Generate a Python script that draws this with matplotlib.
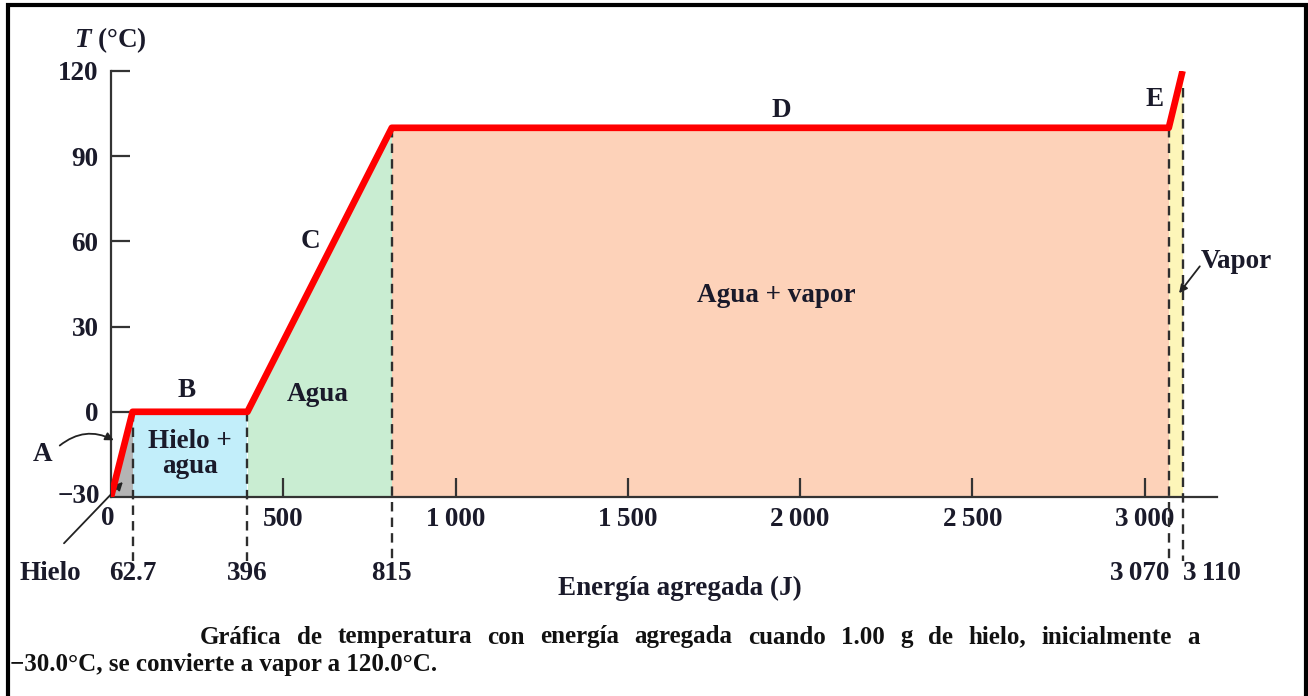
import matplotlib
matplotlib.use("Agg")
import matplotlib.pyplot as plt
from matplotlib.patches import Rectangle

plt.rcParams["mathtext.fontset"] = "custom"
plt.rcParams["mathtext.it"] = "Liberation Serif:italic:bold"
plt.rcParams["mathtext.rm"] = "Liberation Serif:bold"

# energy (J) and temperature (C) at the corners of the heating curve
energia = [0, 62.7, 396, 815, 3070, 3110]
temperatura = [-30, 0, 0, 100, 100, 120]

xticks = [500, 1000, 1500, 2000, 2500, 3000]
xtick_labels = ["500", "1\u2009000", "1\u2009500", "2\u2009000", "2\u2009500", "3\u2009000"]
yticks = [0, 30, 60, 90, 120]
marcas = [62.7, 396, 815, 3070, 3110]
marca_labels = ["62.7", "396", "815", "3\u2009070", "3\u2009110"]

# fill colour of each stage (A..E)
colores = ["#b4b4b4", "#c2eefa", "#c9edd2", "#fdd2b9", "#fdf6b9"]

W, H = 1308, 696
fig = plt.figure(figsize=(W / 100, H / 100), dpi=100)
fuente = "Liberation Serif"
fs = 19.5

# axes placed so that x=0..3210 maps to px 111..1217 and T=-30..120 to px 497..71
ax = fig.add_axes([111 / W, (H - 497) / H, 1106 / W, 426 / H])
ax.set_xlim(0, 3210)
ax.set_ylim(-30, 120)

for i in range(len(energia) - 1):
    x0, x1 = energia[i], energia[i + 1]
    ax.fill_between([x0, x1], [temperatura[i], temperatura[i + 1]], -30,
                    color=colores[i], lw=0, zorder=1)

ax.plot(energia, temperatura, color="#ff0000", lw=4.8, solid_capstyle="butt", zorder=5)

# dashed guide lines running below the axis
tops = [0, 0, 100, 100, 114]
for m, t in zip(marcas, tops):
    ax.plot([m, m], [t, -52.5], ls=(0, (4, 2.6)), color="#2e2e2e", lw=1.7,
            clip_on=False, zorder=4)

for s in ["top", "right"]:
    ax.spines[s].set_visible(False)
for s in ["left", "bottom"]:
    ax.spines[s].set_color("#333333")
    ax.spines[s].set_linewidth(1.6)
ax.spines["left"].set_bounds(-30, 120)

ax.set_xticks(xticks)
ax.set_xticklabels(xtick_labels)
ax.set_yticks(yticks)
ax.tick_params(direction="in", length=14, width=1.6, color="#333333")
ax.tick_params(axis="x", pad=7)
ax.tick_params(axis="y", pad=9)
for lab in ax.get_xticklabels() + ax.get_yticklabels():
    lab.set_fontfamily(fuente)
    lab.set_fontweight("bold")
    lab.set_fontsize(fs)
    lab.set_color("#1a1a2a")

tk = dict(fontfamily=fuente, fontweight="bold", fontsize=fs, color="#1a1a2a")
ax.text(-8, -37.5, "0", ha="center", va="center", **tk)
ax.text(-32, -30, "\u221230", ha="right", va="center", **tk)
for m, lab in zip(marcas[:3], marca_labels[:3]):
    ax.text(m, -57, lab, ha="center", va="center", **tk)
ax.text(marcas[3] + 3, -57, marca_labels[3], ha="right", va="center", **tk)
ax.text(marcas[4] + 2, -57, marca_labels[4], ha="left", va="center", **tk)
ax.text(-175, -57, "Hielo", ha="center", va="center", **tk)

# stage letters and region names
ax.text(-200, -15, "A", ha="center", va="center", **tk)
ax.text(220, 7.5, "B", ha="center", va="center", **tk)
ax.text(580, 60, "C", ha="center", va="center", **tk)
ax.text(1945, 106, "D", ha="center", va="center", **tk)
ax.text(3030, 110, "E", ha="center", va="center", **tk)
ax.text(228, -15, "Hielo +\nagua", ha="center", va="center", linespacing=1.0, **tk)
ax.text(600, 6, "Agua", ha="center", va="center", **tk)
ax.text(1932, 41, "Agua + vapor", ha="center", va="center", **tk)
ax.text(3265, 53, "Vapor", ha="center", va="center", **tk)

ax.annotate("", xy=(15, -10.5), xytext=(-155, -12.5),
            arrowprops=dict(arrowstyle="-|>", color="#222222", lw=1.3,
                            connectionstyle="arc3,rad=-0.35", mutation_scale=12),
            annotation_clip=False)
ax.annotate("", xy=(40, -24), xytext=(-142, -47),
            arrowprops=dict(arrowstyle="-|>", color="#222222", lw=1.3, mutation_scale=12),
            annotation_clip=False)
ax.annotate("", xy=(3095, 41), xytext=(3165, 52),
            arrowprops=dict(arrowstyle="-|>", color="#222222", lw=1.3, mutation_scale=12),
            annotation_clip=False)

# axis titles
fig.text(110 / W, 1 - 40 / H, "$\\mathit{T}$ (°C)", ha="center", va="center",
         fontfamily=fuente, fontweight="bold", fontsize=fs, color="#1a1a2a")
fig.text(680 / W, 1 - 588 / H, "Energía agregada (J)", ha="center", va="center",
         fontfamily=fuente, fontweight="bold", fontsize=fs, color="#1a1a2a")

# caption, first line justified between px 200 and 1200
cap = dict(fontfamily=fuente, fontweight="bold", fontsize=18, color="#111111", va="center")
linea1 = "Gráfica de temperatura con energía agregada cuando 1.00 g de hielo, inicialmente a"
palabras = [fig.text(0, 1 - 637 / H, w, ha="left", **cap) for w in linea1.split()]
rend = fig.canvas.get_renderer()
anchos = [t.get_window_extent(rend).width for t in palabras]
hueco = (1000 - sum(anchos)) / (len(palabras) - 1)
xpos = 200
for t, a in zip(palabras, anchos):
    t.set_x(xpos / W)
    xpos += a + hueco
fig.text(10 / W, 1 - 664 / H, "\u221230.0°C, se convierte a vapor a 120.0°C.", ha="left", **cap)

# outer frame
fig.patches.append(Rectangle((8 / W, -0.05), 1298 / W, 1.05 - 5 / H, transform=fig.transFigure,
                             fill=False, ec="black", lw=3, zorder=10))

fig.savefig("out.png", dpi=100)
